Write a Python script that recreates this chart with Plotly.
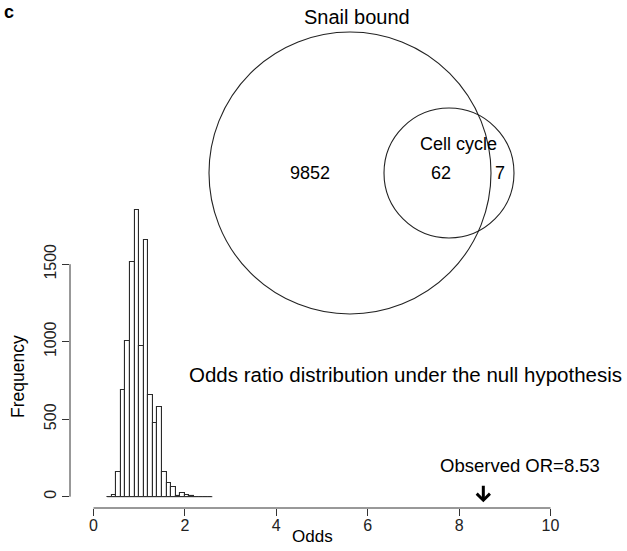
import plotly.graph_objects as go

# ---------------- data ----------------
bin_start = 0.3
bin_width = 0.1
counts = [0, 8, 157, 688, 1006, 1516, 1850, 972, 1656, 656, 473, 576,
          157, 86, 65, 2, 21, 13, 5, 1, 0, 1, 0]
x_ticks = [0, 2, 4, 6, 8, 10]
y_ticks = [0, 500, 1000, 1500]
observed_or = 8.53
venn_only_snail = 9852
venn_both = 62
venn_only_cell = 7
set_a_name = "Snail bound"
set_b_name = "Cell cycle"

edges = [round(bin_start + bin_width * i, 3) for i in range(len(counts) + 1)]
centers = [round(bin_start + bin_width * (i + 0.5), 3) for i in range(len(counts))]

# ---------------- layout helpers ----------------
W, H = 627, 551
FONT = "Liberation Sans, Arial, Helvetica, sans-serif"

def px(x):
    return x / W

def py(y):
    return 1 - y / H

# plot region in pixels
L, R, T, B = 70, 565, 20, 508
x0_px, x_scale = 93.5, 45.7        # pixel of x=0, px per unit
y0_px, y_scale = 496.7, 0.155      # pixel of y=0, px per count
x_range = [(L - x0_px) / x_scale, (R - x0_px) / x_scale]
y_range = [(y0_px - B) / y_scale, (y0_px - T) / y_scale]

fig = go.Figure()

# baseline of histogram (zero-height bins)
fig.add_trace(go.Scatter(x=[edges[0], edges[-1]], y=[0, 0], mode="lines",
                         line=dict(color="#333333", width=1), hoverinfo="skip",
                         showlegend=False))
fig.add_trace(go.Bar(x=centers, y=counts, width=bin_width,
                     marker=dict(color="white", line=dict(color="#2a2a2a", width=1.1)),
                     showlegend=False))

fig.update_layout(
    width=W, height=H,
    margin=dict(l=0, r=0, t=0, b=0),
    paper_bgcolor="white", plot_bgcolor="white",
    font=dict(family=FONT, color="black"),
    bargap=0,
    xaxis=dict(domain=[px(L), px(R)], range=x_range, showgrid=False, zeroline=False,
               showline=False, tickmode="array", tickvals=x_ticks,
               ticks="outside", ticklen=7, tickcolor="#333333", tickwidth=1,
               ticklabelstandoff=-4,
               tickfont=dict(size=16, family=FONT, color="#222222")),
    yaxis=dict(domain=[py(B), py(T)], range=y_range, showgrid=False, zeroline=False,
               showline=False, tickmode="array", tickvals=y_ticks,
               ticks="outside", ticklen=7, tickcolor="#333333", tickwidth=1,
               tickangle=-90,
               tickfont=dict(size=16, family=FONT, color="#222222")),
)

shapes = []
# axis lines (R style, only spanning tick range)
shapes.append(dict(type="line", xref="x", yref="paper",
                   x0=x_ticks[0], x1=x_ticks[-1], y0=py(B), y1=py(B),
                   line=dict(color="#333333", width=1)))
shapes.append(dict(type="line", xref="paper", yref="y",
                   x0=px(L), x1=px(L), y0=y_ticks[0], y1=y_ticks[-1],
                   line=dict(color="#333333", width=1)))

# Venn circles (schematic)
def circle(cx, cy, r):
    return dict(type="circle", xref="paper", yref="paper",
                x0=px(cx - r), x1=px(cx + r), y0=py(cy + r), y1=py(cy - r),
                line=dict(color="#222222", width=1.1), fillcolor="rgba(0,0,0,0)")

shapes.append(circle(350, 173, 141))
shapes.append(circle(449, 173, 65))
fig.update_layout(shapes=shapes)

def txt(text, x, y, size=17, **kw):
    fig.add_annotation(text=text, x=px(x), y=py(y), xref="paper", yref="paper",
                       showarrow=False, xanchor="center", yanchor="middle",
                       font=dict(size=size, family=FONT, color="black"), **kw)

txt("<b>c</b>", 9, 12, size=18)
txt(set_a_name, 357, 17, size=20)
txt(set_b_name, 458, 144, size=18)
txt(str(venn_only_snail), 310, 173, size=18)
txt(str(venn_both), 441, 173, size=18)
txt(str(venn_only_cell), 500, 173, size=18)
txt("Odds ratio distribution under the null hypothesis", 405, 374, size=20.5)
txt("Observed OR=" + str(observed_or), 520, 465, size=18.5)
txt("Odds", 312, 536, size=17)
txt("Frequency", 18, 377, size=17.5, textangle=-90)

# observed arrow
fig.add_annotation(x=observed_or, y=-36, ax=observed_or, ay=80, xref="x", yref="y",
                   axref="x", ayref="y", text="", showarrow=True, arrowhead=4,
                   arrowsize=0.85, arrowwidth=3, arrowcolor="black", standoff=0)

fig.write_html("out.html")
